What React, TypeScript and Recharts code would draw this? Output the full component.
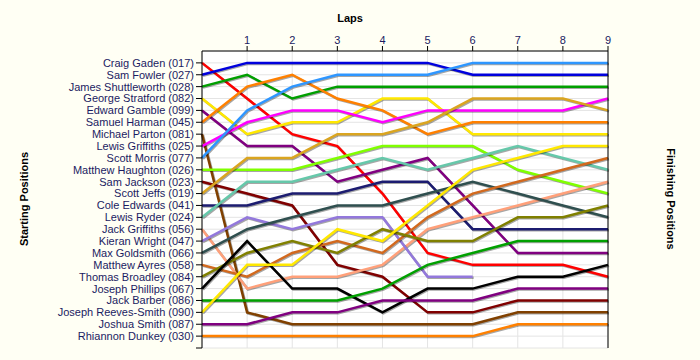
import React from 'react';
import { LineChart, Line, XAxis, YAxis, CartesianGrid } from 'recharts';

const laps = [0, 1, 2, 3, 4, 5, 6, 7, 8, 9];

const driverNames = [
  'Craig Gaden', 'Sam Fowler', 'James Shuttleworth', 'George Stratford',
  'Edward Gamble', 'Samuel Harman', 'Michael Parton', 'Lewis Griffiths',
  'Scott Morris', 'Matthew Haughton', 'Sam Jackson', 'Scott Jeffs',
  'Cole Edwards', 'Lewis Ryder', 'Jack Griffiths', 'Kieran Wright',
  'Max Goldsmith', 'Matthew Ayres', 'Thomas Broadley', 'Joseph Phillips',
  'Jack Barber', 'Joseph Reeves-Smith', 'Joshua Smith', 'Rhiannon Dunkey',
];

const carNumbers = [
  '017', '027', '028', '082', '099', '045', '081', '025', '077', '026', '023', '019',
  '041', '024', '056', '047', '066', '058', '084', '067', '086', '090', '087', '030',
];

const driverColors = [
  '#ff0000', '#0000dd', '#009f00', '#ffe800', '#800080', '#ff8000',
  '#804000', '#ff00ff', '#2e96ff', '#80ff00', '#800000', '#daa520',
  '#1c1c70', '#66c8aa', '#ffa07a', '#9378dc', '#2f4f4f', '#d2691e',
  '#808000', '#000000', '#00a000', '#ffe800', '#800080', '#ff8000',
];

// position after each lap (lap 0 = grid), null = retired
const positions: (number | null)[][] = [
  [1, 4, 7, 8, 12, 17, 18, 18, 18, 19],
  [2, 1, 1, 1, 1, 1, 2, 2, 2, 2],
  [3, 2, 4, 3, 3, 3, 3, 3, 3, 3],
  [4, 7, 6, 6, 4, 4, 7, 7, 7, 7],
  [5, 8, 8, 11, 10, 9, 13, 17, 17, 17],
  [6, 3, 2, 4, 5, 7, 6, 6, 6, 6],
  [7, 22, 23, 23, 23, 23, 23, 22, 22, 22],
  [8, 6, 5, 5, 6, 5, 5, 5, 5, 4],
  [9, 5, 3, 2, 2, 2, 1, 1, 1, 1],
  [10, 10, 10, 9, 8, 8, 8, 10, 11, 12],
  [11, 12, 13, 18, 19, 22, 22, 21, 21, 21],
  [12, 9, 9, 7, 7, 6, 4, 4, 4, 5],
  [13, 13, 12, 12, 11, 11, 15, 15, 15, 15],
  [14, 11, 11, 10, 9, 10, 9, 8, 9, 10],
  [15, 20, 19, 19, 18, 15, 14, 13, 12, 11],
  [16, 14, 15, 14, 14, 19, 19, null, null, null],
  [17, 15, 14, 13, 13, 12, 11, 12, 13, 14],
  [18, 19, 17, 16, 17, 14, 12, 11, 10, 9],
  [19, 17, 16, 17, 15, 16, 16, 14, 14, 13],
  [20, 16, 20, 20, 22, 20, 20, 19, 19, 18],
  [21, 21, 21, 21, 20, 18, 17, 16, 16, 16],
  [22, 18, 18, 15, 16, 13, 10, 9, 8, 8],
  [23, 23, 22, 22, 21, 21, 21, 20, 20, 20],
  [24, 24, 24, 24, 24, 24, 24, 23, 23, 23],
];

const lapTicks = [1, 2, 3, 4, 5, 6, 7, 8, 9];
const positionTicks = Array.from({ length: 25 }, (_, i) => i + 1);

const ordinal = (n: number) => {
  if (n > 24) return '';
  const s = n % 100 >= 11 && n % 100 <= 13 ? 'th' : ['th', 'st', 'nd', 'rd'][n % 10] || 'th';
  return `${n}${s}`;
};

const chartData = laps.map((lap, li) => {
  const row: Record<string, number | null> = { lap };
  positions.forEach((p, di) => {
    row[`d${di}`] = p[li];
  });
  return row;
});

const labelColor = '#1b1b62';
const tickStyle = { fontSize: 11, fill: labelColor, fontFamily: 'Arial, "Liberation Sans", sans-serif' };
const titleStyle: React.CSSProperties = {
  fontSize: 11,
  fontWeight: 'bold',
  fill: '#000',
  fontFamily: 'Arial, "Liberation Sans", sans-serif',
};

const App: React.FC = () => {
  return (
    <div style={{ position: 'absolute', left: 0, top: 0, width: 700, height: 360, background: '#fffff4' }}>
      <style>{`.recharts-line-curve { filter: drop-shadow(1px 1.5px 0px rgba(0,0,0,0.35)); }`}</style>
      <LineChart width={700} height={360} data={chartData} margin={{ top: 0, right: 0, left: 0, bottom: 12 }}>
        <CartesianGrid yAxisId="left" stroke="#e4e4e4" fill="#ffffff" />
        <XAxis
          dataKey="lap"
          type="number"
          domain={[0, 9]}
          ticks={lapTicks}
          orientation="top"
          height={51}
          tickSize={5}
          tick={tickStyle}
          stroke="#000"
          allowDecimals={false}
          label={{
            content: () => (
              <text x={350} y={22} textAnchor="middle" style={titleStyle}>
                Laps
              </text>
            ),
          }}
        />
        <YAxis
          yAxisId="left"
          type="number"
          domain={[0, 25]}
          reversed
          ticks={positionTicks}
          interval={0}
          width={202}
          tickSize={6}
          tick={tickStyle}
          stroke="#000"
          tickFormatter={(v: number) => (v <= 24 ? `${driverNames[v - 1]} (${carNumbers[v - 1]})` : '')}
          label={{
            content: () => (
              <text x={28} y={199} textAnchor="middle" transform="rotate(-90 28 199)" style={titleStyle}>
                Starting Positions
              </text>
            ),
          }}
        />
        <YAxis
          yAxisId="right"
          orientation="right"
          type="number"
          domain={[0, 25]}
          reversed
          ticks={positionTicks}
          interval={0}
          width={92}
          tickSize={6}
          tick={tickStyle}
          stroke="#000"
          tickFormatter={ordinal}
          label={{
            content: () => (
              <text x={667} y={199} textAnchor="middle" transform="rotate(90 667 199)" style={titleStyle}>
                Finishing Positions
              </text>
            ),
          }}
        />
        {driverNames.map((name, i) => (
          <Line
            key={name}
            yAxisId="left"
            type="linear"
            dataKey={`d${i}`}
            name={name}
            stroke={driverColors[i]}
            strokeWidth={2.5}
            dot={false}
            activeDot={false}
            isAnimationActive={false}
          />
        ))}
      </LineChart>
    </div>
  );
};

export default App;
